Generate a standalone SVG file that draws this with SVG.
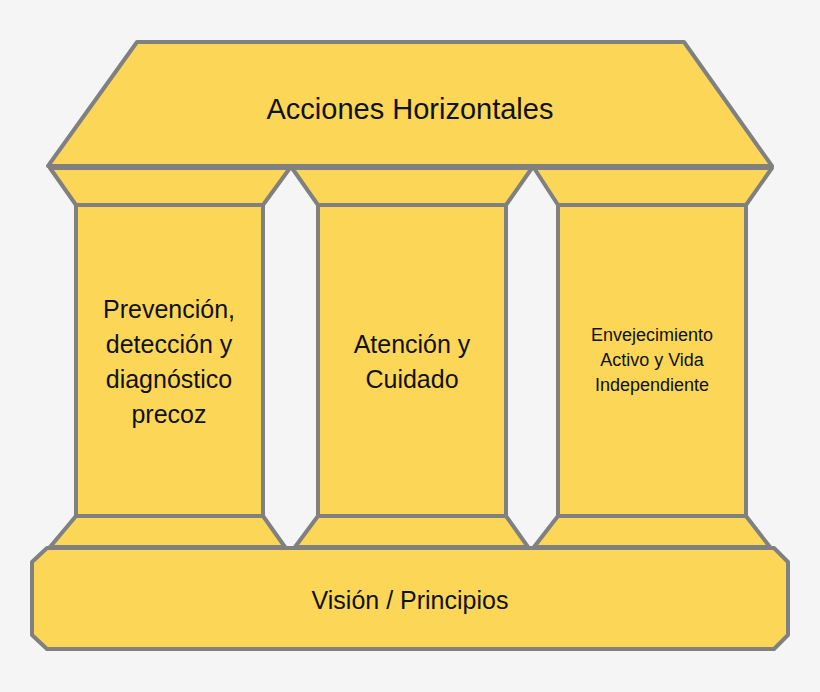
<svg xmlns="http://www.w3.org/2000/svg" width="820" height="692" viewBox="0 0 820 692">
<style>
.s{fill:#fcd757;stroke:#808080;stroke-width:4;stroke-linejoin:round}
.t{font-family:"Liberation Sans",Arial,sans-serif;fill:#111;text-anchor:middle}
</style>
<rect width="820" height="692" fill="#f5f5f5"/>
<g id="roof"><polygon class="s" points="137,42 684,42 772,166 48,166"/>
<text class="t" x="410" y="119" font-size="29">Acciones Horizontales</text></g>
<g id="col1">
<polygon class="s" points="50,168 290,168 263,205 76,205"/>
<rect class="s" x="76" y="205" width="187" height="311"/>
<polygon class="s" points="76,516 263,516 285,547 50,547"/>
<text class="t" font-size="25"><tspan x="169" y="318">Prevención,</tspan><tspan x="169" y="353">detección y</tspan><tspan x="169" y="388">diagnóstico</tspan><tspan x="169" y="423">precoz</tspan></text></g>
<g id="col2">
<polygon class="s" points="292,168 532,168 506,205 318,205"/>
<rect class="s" x="318" y="205" width="188" height="311"/>
<polygon class="s" points="318,516 506,516 528,547 295,547"/>
<text class="t" font-size="25"><tspan x="412" y="353">Atención y</tspan><tspan x="412" y="388">Cuidado</tspan></text></g>
<g id="col3">
<polygon class="s" points="534,168 772,168 746,205 558,205"/>
<rect class="s" x="558" y="205" width="188" height="311"/>
<polygon class="s" points="558,516 746,516 770,547 534,547"/>
<text class="t" font-size="18"><tspan x="652" y="341">Envejecimiento</tspan><tspan x="652" y="366">Activo y Vida</tspan><tspan x="652" y="391">Independiente</tspan></text></g>
<g id="base"><polygon class="s" points="47,548 774,548 788,562 788,635 774,649 47,649 32,635 32,562"/>
<text class="t" x="410" y="609" font-size="25">Visión / Principios</text></g>
<g id="connectors"/>
</svg>
